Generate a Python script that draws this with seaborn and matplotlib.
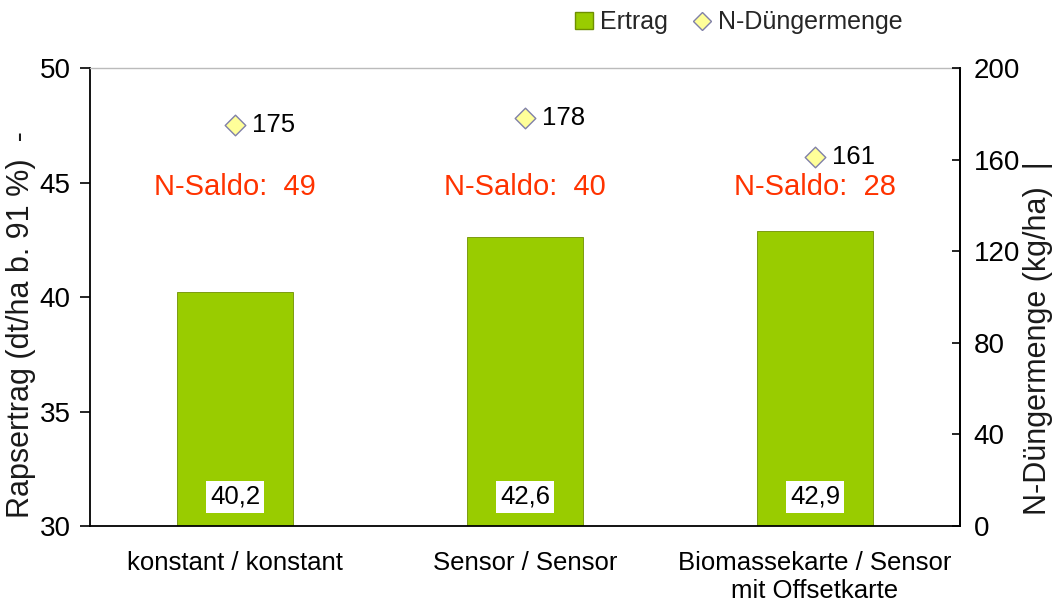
import matplotlib
matplotlib.use("Agg")
import matplotlib.pyplot as plt
import seaborn as sns
import pandas as pd
from matplotlib.lines import Line2D
from matplotlib.patches import Patch

categories = ["konstant / konstant", "Sensor / Sensor", "Biomassekarte / Sensor\nmit Offsetkarte"]
ertrag = [40.2, 42.6, 42.9]
ertrag_labels = ["40,2", "42,6", "42,9"]
n_duenger = [175, 178, 161]
n_saldo = [49, 40, 28]

sns.set_theme(style="white")
plt.rcParams['font.family'] = ['Liberation Sans', 'DejaVu Sans']

df = pd.DataFrame({"cat": categories, "ertrag": ertrag, "n": n_duenger})

fig = plt.figure(figsize=(10.54, 6.10), dpi=100)
ax = fig.add_axes([0.0854, 0.1377, 0.8254, 0.7508])

green = "#99CC00"
sns.barplot(data=df, x="cat", y="ertrag", ax=ax, color=green, width=0.4,
            edgecolor="#6f8f00", linewidth=0.6, saturation=1)
ax.set_ylim(30, 50)
ax.set_yticks([30, 35, 40, 45, 50])
ax.set_xlim(-0.5, 2.5)
ax.set_xlabel("")
ax.set_ylabel("Rapsertrag (dt/ha b. 91 %)  -", fontsize=22, color="#1a1a1a")
ax.yaxis.set_label_coords(-0.062, 0.44)
ax.tick_params(axis='y', direction='out', length=7, width=1.2, labelsize=20, left=True, colors="black", pad=7)
ax.tick_params(axis='x', length=0, labelsize=18.5, pad=18)
for lab in ax.get_xticklabels():
    lab.set_color("black")
for s in ["left", "bottom", "right"]:
    ax.spines[s].set_color("black")
    ax.spines[s].set_linewidth(1.3)
ax.spines["top"].set_color("#bbbbbb")
ax.spines["top"].set_linewidth(1.0)

for i, lab in enumerate(ertrag_labels):
    ax.text(i, 31.27, lab, ha="center", va="center", fontsize=18.5, color="black",
            bbox=dict(boxstyle="square,pad=0.15", facecolor="white", edgecolor="none"))
for i, s in enumerate(n_saldo):
    ax.text(i, 44.8, f"N-Saldo:  {s}", ha="center", va="center", fontsize=21, color="#FF3300")

ax2 = ax.twinx()
sns.scatterplot(data=df, x="cat", y="n", ax=ax2, marker="D", s=110, color="#FFFF99",
                edgecolor="#8080A8", linewidth=1.0, zorder=5, legend=False)
ax2.set_ylim(0, 200)
ax2.set_yticks([0, 40, 80, 120, 160, 200])
ax2.set_xlim(-0.5, 2.5)
ax2.set_ylabel("N-Düngermenge (kg/ha)  |", fontsize=22, color="#1a1a1a", rotation=90)
ax2.yaxis.set_label_coords(1.0725, 0.41)
ax2.tick_params(axis='y', direction='in', length=6, width=1.2, labelsize=20, right=True, colors="black", pad=10)
for s in ax2.spines.values():
    s.set_visible(False)
ax2.spines["right"].set_visible(True)
ax2.spines["right"].set_color("black")
ax2.spines["right"].set_linewidth(1.3)
for i, v in enumerate(n_duenger):
    ax2.annotate(str(v), (i, v), xytext=(12, 0), textcoords="offset points",
                 ha="left", va="center", fontsize=18.5, color="black")

handles = [Patch(facecolor=green, edgecolor="#6f8f00", label="Ertrag"),
           Line2D([], [], marker="D", linestyle="none", markersize=9, markerfacecolor="#FFFF99",
                  markeredgecolor="#8080A8", label="N-Düngermenge")]
fig.legend(handles=handles, loc="upper right", bbox_to_anchor=(0.878, 1.02), ncol=2, frameon=False,
           fontsize=18, handlelength=0.7, handleheight=0.7, handletextpad=0.3, columnspacing=1.0)

fig.savefig("out.png", dpi=100)
